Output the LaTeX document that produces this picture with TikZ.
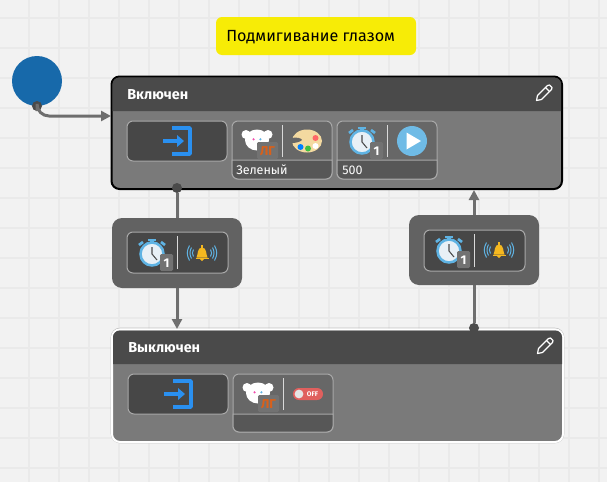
\documentclass[tikz,border=0pt]{standalone}
\usepackage{fontspec}
\setmainfont{Fira Sans}
\usetikzlibrary{arrows.meta}
\definecolor{bgc}{HTML}{F2F2F2}
\definecolor{gridc}{HTML}{EAEAEA}
\definecolor{startc}{HTML}{1769AA}
\definecolor{dotc}{HTML}{4A4A4A}
\definecolor{connc}{HTML}{6E6E6E}
\definecolor{hdrc}{HTML}{4A4A4A}
\definecolor{bodyc}{HTML}{7A7A7A}
\definecolor{transc}{HTML}{626262}
\definecolor{innerc}{HTML}{474747}
\definecolor{edgec}{HTML}{A8A8A8}
\definecolor{acttop}{HTML}{676767}
\definecolor{actbot}{HTML}{575757}
\definecolor{yellowc}{HTML}{F7EC06}
\definecolor{enterc}{HTML}{2A90F0}
\definecolor{skyc}{HTML}{5FB3E3}
\definecolor{facec}{HTML}{E8F0F6}
\definecolor{badgec}{HTML}{727272}
\definecolor{orangec}{HTML}{D9601A}
\definecolor{bellc}{HTML}{F5B820}
\definecolor{palc}{HTML}{F3D9A0}
\definecolor{togc}{HTML}{E0605E}
\tikzset{
  pxbox/.style={inner sep=0pt,outer sep=0pt,rectangle},
  startnode/.style={circle,fill=startc,inner sep=0pt,outer sep=0pt,minimum size=37.5pt},
  portdot/.style={circle,fill=dotc,inner sep=0pt,outer sep=0pt,minimum size=7.5pt},
  conn/.style={draw=connc,line width=2.25pt},
  tip/.style={-{Triangle[length=7.5pt,width=7.5pt]}},
  stateon/.style={pxbox,draw=black,fill=bodyc,line width=1.5pt,rounded corners=6pt},
  stateoff/.style={pxbox,draw=white,fill=bodyc,line width=1.5pt,rounded corners=6pt},
  transbox/.style={pxbox,fill=transc,rounded corners=7.5pt},
  innerbox/.style={pxbox,fill=innerc,draw=edgec,line width=.75pt,rounded corners=4.5pt},
  actbox/.style={pxbox,fill=acttop,draw=edgec,line width=.75pt,rounded corners=4.5pt},
  titlebox/.style={pxbox,fill=yellowc,rounded corners=4.5pt},
  hdrtext/.style={anchor=base west,inner sep=0pt,text=white,font=\fontsize{10.8pt}{12pt}\selectfont\bfseries},
  acttext/.style={anchor=base west,inner sep=0pt,text=white,font=\fontsize{9.4pt}{10pt}\selectfont},
  divider/.style={draw=white!85!black,line width=.75pt},
}
\newcommand{\pxnode}[6]{\node[#2,minimum width={(#5-#3)*.75pt},minimum height={(#6-#4)*.75pt}] (#1) at ({(#3+#5)/2},{(#4+#6)/2}) {};}
\newcommand{\hdrband}[4]{\fill[hdrc] (#1,#4) {[rounded corners=5pt] -- (#1,#2) -- (#3,#2)} -- (#3,#4) -- cycle;}
\newcommand{\actfoot}[4]{\fill[actbot,draw=edgec,line width=.75pt] (#1,#2) -- (#3,#2) {[rounded corners=4.5pt] -- (#3,#4) -- (#1,#4)} -- cycle;}
\newcommand{\entericon}[2]{\begin{scope}[shift={(#1,#2)}]
  \draw[enterc,line width=2.6pt,line join=round] (-5,-13) -- (13,-13) -- (13,13) -- (-5,13);
  \draw[enterc,line width=2.6pt] (-14,0) -- (2,0);
  \fill[enterc] (0,-6) -- (7,0) -- (0,6) -- cycle;
\end{scope}}
\newcommand{\pencilicon}[2]{\begin{scope}[shift={(#1,#2)}]
  \draw[white,line width=.9pt,line join=round] (-8,7) -- (-7,2) -- (3,-8) -- (5,-8.5) -- (7.5,-6) -- (7,-4) -- (-3,6) -- cycle;
  \draw[white,line width=.8pt] (1,-6) -- (5,-2);
\end{scope}}
\newcommand{\clockicon}[2]{\begin{scope}[shift={(#1,#2)}]
  \fill[skyc] (-4,-15.5) rectangle (4,-13);
  \fill[skyc] (-1.8,-14) rectangle (1.8,-11);
  \draw[skyc,line width=2pt] (-13,-9) -- (-9,-12);
  \draw[skyc,line width=2pt] (13,-9) -- (9,-12);
  \fill[facec,draw=skyc,line width=1.9pt] (0,0) circle (11.5);
  \draw[dotc,line width=.8pt] (0,-7) -- (0,0) -- (5,6);
  \fill[badgec,rounded corners=1pt] (8,0) rectangle (21,17);
  \node[inner sep=0pt,text=white,font=\fontsize{9.5pt}{10pt}\selectfont\bfseries] at (14.5,9) {1};
\end{scope}}
\newcommand{\bellicon}[2]{\begin{scope}[shift={(#1,#2)}]
  \fill[bellc] (-5.5,4.5) .. controls (-4,2) and (-5,-5.5) .. (0,-5.5) .. controls (5,-5.5) and (4,2) .. (5.5,4.5) -- cycle;
  \fill[bellc] (-.9,-8) rectangle (.9,-5);
  \fill[bellc] (-6.5,4.5) rectangle (6.5,6);
  \fill[bellc] (-2.2,6) -- (2.2,6) -- (0,8) -- cycle;
  \foreach \s in {-1,1}{
    \draw[skyc,line width=.75pt] (\s*8.5,-3.5) .. controls (\s*10,-1.5) and (\s*10,1.5) .. (\s*8.5,3.5);
    \draw[skyc,line width=.75pt] (\s*10.5,-5.5) .. controls (\s*12.5,-2) and (\s*12.5,2) .. (\s*10.5,5.5);
    \draw[skyc,line width=.75pt] (\s*12.5,-7.5) .. controls (\s*15.5,-2) and (\s*15.5,2) .. (\s*12.5,7.5);
  }
\end{scope}}
\newcommand{\bearicon}[2]{\begin{scope}[shift={(#1,#2)}]
  \fill[white] (-11,-5.5) circle (4.5);
  \fill[white] (11,-5.5) circle (4.5);
  \fill[white] (0,0) ellipse (12 and 10.5);
  \fill[magenta!70!white] (-3.4,-.7) circle (1.2);
  \fill[skyc] (3.4,-.7) circle (1.2);
  \fill[badgec,rounded corners=1pt] (0,2) rectangle (21,19);
  \node[inner sep=0pt,text=orangec,font=\fontsize{9.6pt}{10pt}\selectfont\bfseries] at (10.5,11) {ЛГ};
\end{scope}}
\newcommand{\paletteicon}[2]{\begin{scope}[shift={(#1,#2)}]
  \fill[palc] (0,0) ellipse (15 and 11.5);
  \fill[acttop] (-15.5,-3) .. controls (-10,-4) and (-6,-3) .. (-5,-1) .. controls (-7,1) and (-11,2) .. (-15.5,2) -- cycle;
  \fill[red!60!white] (8.5,-3) circle (3);
  \fill[white] (8.5,5) circle (3);
  \fill[green!50!gray] (1,7.5) circle (3);
  \fill[blue!50!cyan] (-6.5,6) circle (3);
\end{scope}}
\newcommand{\playicon}[2]{\begin{scope}[shift={(#1,#2)}]
  \fill[skyc!90!white] (0,0) circle (15);
  \fill[white] (-5.5,-8.5) -- (9,0) -- (-5.5,8.5) -- cycle;
\end{scope}}
\newcommand{\toggleicon}[2]{\begin{scope}[shift={(#1,#2)}]
  \fill[togc,rounded corners=4.4pt] (-15,-6) rectangle (15,6);
  \fill[white!90!black] (-9,0) circle (4.4);
  \node[inner sep=0pt,text=white,font=\fontsize{5pt}{5pt}\selectfont\bfseries] at (4.5,0) {OFF};
\end{scope}}
\begin{document}
\begin{tikzpicture}[x=.75pt,y=-.75pt]
\useasboundingbox (0,0) rectangle (607,482);
\fill[bgc] (0,0) rectangle (607,482);
\foreach \gx in {29,59,...,599} {\draw[gridc,line width=1.1pt] (\gx,0) -- (\gx,482);}
\foreach \gy in {18,48,...,478} {\draw[gridc,line width=1.1pt] (0,\gy) -- (607,\gy);}

% title
\pxnode{title}{titlebox}{216}{17}{416}{55}
\node[inner sep=0pt,anchor=base west,text=black,font=\fontsize{12.1pt}{13pt}\selectfont] (titletext) at (226,41) {Подмигивание глазом};

% start
\node[startnode] (start) at (37,81) {};

% state on
\pxnode{son}{stateon}{111.5}{76.5}{562}{189}
\hdrband{112.5}{77.5}{561}{111}
\node[hdrtext] (sontext) at (127,99) {Включен};
\pencilicon{544.5}{93.5}
\pxnode{en1}{innerbox}{127}{121}{227}{161}
\entericon{177}{141}
\pxnode{a1}{actbox}{232}{121}{332}{179}
\actfoot{232}{160}{332}{179}
\bearicon{257}{140}
\draw[divider] (282,125) -- (282,157);
\paletteicon{307}{141}
\node[acttext] (a1t) at (236,174) {Зеленый};
\pxnode{a2}{actbox}{337}{121}{437}{179}
\actfoot{337}{160}{437}{179}
\clockicon{362}{142}
\draw[divider] (387,125) -- (387,157);
\playicon{412}{141}
\node[acttext] (a2t) at (342,174) {500};

% state off
\draw[gray!50,line width=.5pt,rounded corners=7pt] (111,328) rectangle (564,443);
\pxnode{soff}{stateoff}{112}{329.5}{563}{442}
\hdrband{113}{330.5}{562}{364}
\node[hdrtext] (sofftext) at (128,352) {Выключен};
\pencilicon{545.5}{346.5}
\pxnode{en2}{innerbox}{128}{374}{228}{414}
\entericon{178}{394}
\pxnode{a3}{actbox}{233}{374}{333}{432}
\actfoot{233}{414}{333}{432}
\bearicon{258}{393}
\draw[divider] (283,378) -- (283,410);
\toggleicon{308}{394}

% connectors
\node[portdot] (d0) at (37,106) {};
\node[portdot] (d1) at (177,188) {};
\node[portdot] (d2) at (474,328) {};
\coordinate (son-in) at (111,116);
\coordinate (son-in2) at (474,190);
\coordinate (soff-in) at (177,329);
\draw[conn,tip,rounded corners=9pt] (d0.south) |- (son-in);
\draw[conn,tip] (d1) -- (soff-in);
\draw[conn,tip] (d2) -- (son-in2);

% transitions
\pxnode{t1}{transbox}{112}{218}{242}{288}
\pxnode{t1i}{innerbox}{127}{232}{228}{273}
\clockicon{152}{254}
\draw[divider] (177,236) -- (177,269);
\bellicon{202}{253}
\pxnode{t2}{transbox}{409}{215}{539}{285}
\pxnode{t2i}{innerbox}{424}{230}{525}{271}
\clockicon{449}{251}
\draw[divider] (474,234) -- (474,267);
\bellicon{499}{250}
\end{tikzpicture}
\end{document}
